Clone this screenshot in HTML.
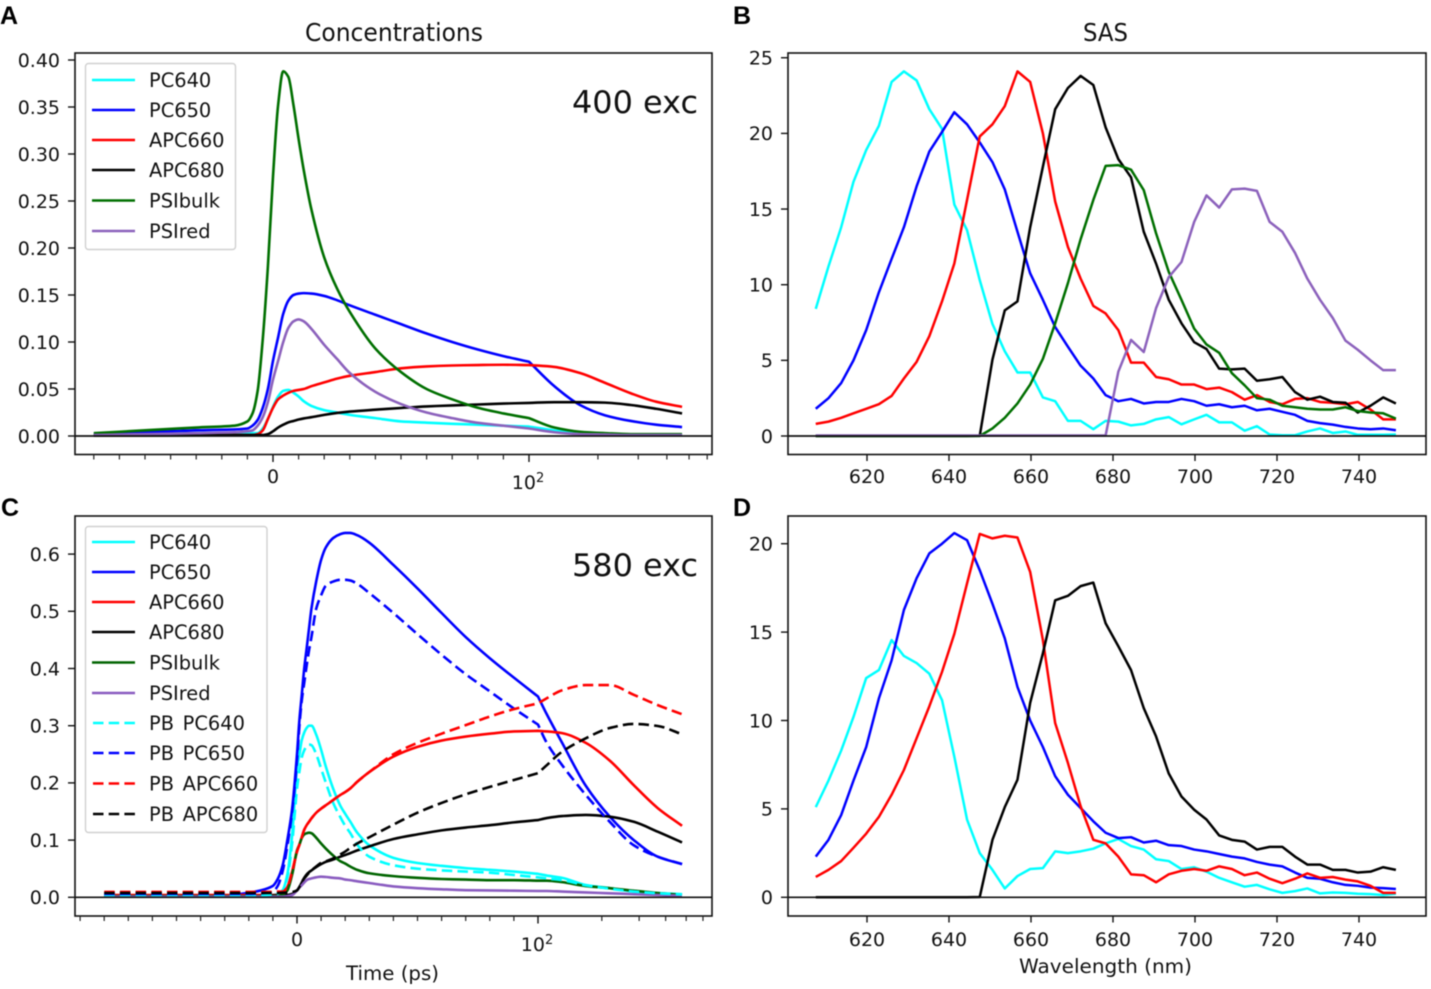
<!DOCTYPE html>
<html lang="en">
<head>
<meta charset="utf-8">
<title>Concentrations and SAS</title>
<style>
  html, body { margin: 0; padding: 0; background: #fff; width: 1431px; height: 989px; overflow: hidden; }
  svg { display: block; filter: blur(0.55px); }
  text { font-family: "DejaVu Sans", "Liberation Sans", sans-serif; fill: #111; }
  .tick { font-size: 19px; }
  .legend { font-size: 19.4px; word-spacing: 2.5px; }
  .panel-label { font-family: "Liberation Sans", sans-serif; font-weight: 700; font-size: 25px; fill: #000; }
</style>
</head>
<body>
<svg id="figure" width="1431" height="989" viewBox="0 0 1431 989" xmlns="http://www.w3.org/2000/svg">
  <rect x="0" y="0" width="1431" height="989" fill="#fff"/>

  <text class="panel-label" x="0" y="24">A</text>
  <text class="panel-label" x="733" y="24">B</text>
  <text class="panel-label" x="1" y="516">C</text>
  <text class="panel-label" x="733" y="516">D</text>

  <text x="305" y="41" font-size="24.5" textLength="178" lengthAdjust="spacingAndGlyphs">Concentrations</text>
  <text x="1083" y="41" font-size="24.5" textLength="45" lengthAdjust="spacingAndGlyphs">SAS</text>

  <g id="panel-a"></g>
  <g id="panel-b"></g>
  <g id="panel-c"></g>
  <g id="panel-d"></g>

  <g>
    <text class="tick" x="273" y="483" text-anchor="middle">0</text>
    <text class="tick" x="528" y="489" text-anchor="middle">10<tspan font-size="13" dy="-7">2</tspan></text>
  </g>
  <g>
    <text class="tick" x="297" y="946" text-anchor="middle">0</text>
    <text class="tick" x="537" y="951" text-anchor="middle">10<tspan font-size="13" dy="-7">2</tspan></text>
  </g>

  <text x="346" y="980" font-size="19.6" textLength="93" lengthAdjust="spacingAndGlyphs">Time (ps)</text>
  <text x="1019" y="973" font-size="19.6" textLength="173" lengthAdjust="spacingAndGlyphs">Wavelength (nm)</text>

  <text x="572" y="113" font-size="31.5" textLength="126" lengthAdjust="spacingAndGlyphs">400 exc</text>
  <text x="572" y="576" font-size="31.5" textLength="126" lengthAdjust="spacingAndGlyphs">580 exc</text>

  <g>
    <rect x="85.5" y="63.5" width="150" height="186" rx="3" fill="#fff" fill-opacity="0.85" stroke="#d0d0d0" stroke-width="1.4"/>
    <g><line x1="92" x2="135" y1="80" y2="80" stroke="#00ffff" stroke-width="2.6"/><text class="legend" x="149" y="87">PC640</text></g>
    <g><line x1="92" x2="135" y1="110" y2="110" stroke="#0000ff" stroke-width="2.6"/><text class="legend" x="149" y="117">PC650</text></g>
    <g><line x1="92" x2="135" y1="140" y2="140" stroke="#ff0000" stroke-width="2.6"/><text class="legend" x="149" y="147">APC660</text></g>
    <g><line x1="92" x2="135" y1="170" y2="170" stroke="#000" stroke-width="2.6"/><text class="legend" x="149" y="177">APC680</text></g>
    <g><line x1="92" x2="135" y1="200.5" y2="200.5" stroke="#006f00" stroke-width="2.6"/><text class="legend" x="149" y="207.5">PSIbulk</text></g>
    <g><line x1="92" x2="135" y1="231" y2="231" stroke="#8c62bc" stroke-width="2.6"/><text class="legend" x="149" y="238">PSIred</text></g>
  </g>

  <g>
    <rect x="85.5" y="526.5" width="181.5" height="306" rx="3" fill="#fff" fill-opacity="0.85" stroke="#d0d0d0" stroke-width="1.4"/>
    <g><line x1="92" x2="135" y1="542" y2="542" stroke="#00ffff" stroke-width="2.6"/><text class="legend" x="149" y="549">PC640</text></g>
    <g><line x1="92" x2="135" y1="572" y2="572" stroke="#0000ff" stroke-width="2.6"/><text class="legend" x="149" y="579">PC650</text></g>
    <g><line x1="92" x2="135" y1="602" y2="602" stroke="#ff0000" stroke-width="2.6"/><text class="legend" x="149" y="609">APC660</text></g>
    <g><line x1="92" x2="135" y1="632" y2="632" stroke="#000" stroke-width="2.6"/><text class="legend" x="149" y="639">APC680</text></g>
    <g><line x1="92" x2="135" y1="662.5" y2="662.5" stroke="#006400" stroke-width="2.6"/><text class="legend" x="149" y="669.5">PSIbulk</text></g>
    <g><line x1="92" x2="135" y1="693" y2="693" stroke="#8a5cc0" stroke-width="2.6"/><text class="legend" x="149" y="700">PSIred</text></g>
    <g><line x1="93" x2="135" y1="723" y2="723" stroke="#00ffff" stroke-width="2.6" stroke-dasharray="10.5 5.2"/><text class="legend" x="149" y="730">PB PC640</text></g>
    <g><line x1="93" x2="135" y1="753" y2="753" stroke="#0000ff" stroke-width="2.6" stroke-dasharray="10.5 5.2"/><text class="legend" x="149" y="760">PB PC650</text></g>
    <g><line x1="93" x2="135" y1="783.5" y2="783.5" stroke="#ff0000" stroke-width="2.6" stroke-dasharray="10.5 5.2"/><text class="legend" x="149" y="790.5">PB APC660</text></g>
    <g><line x1="93" x2="135" y1="814" y2="814" stroke="#000" stroke-width="2.6" stroke-dasharray="10.5 5.2"/><text class="legend" x="149" y="821">PB APC680</text></g>
  </g>
</svg>

<script>
/* ---------- Panel A: concentrations, 400 nm excitation ---------- */
var timeA = [-70,-50,-30,-15,-10,-8,-6,-4,-2,0,2,4,6,8,10,12,15,20,25,30,40,50,60,70,80,90,100,129,167,215,278,359,466];
var concAPC640 = [.001,.002,.003,.003,.003,.003,.003,.008,.018,.031,.042,.048,.049,.046,.042,.037,.032,.0275,.025,.0225,.019,.0155,.0142,.013,.012,.011,.01,.006,.003,.002,.0015,.001,.001];
var concAPC650 = [.002,.004,.006,.007,.008,.011,.017,.03,.05,.08,.105,.13,.144,.15,.1515,.152,.1515,.149,.1445,.139,.129,.119,.109,.10,.092,.085,.079,.053,.033,.022,.016,.012,.0095];
var concAAPC660 = [.0005,.0007,.001,.001,.001,.001,.002,.006,.018,.03,.039,.043,.046,.048,.049,.05,.053,.057,.061,.064,.068,.072,.074,.075,.0755,.0758,.0755,.0735,.067,.0565,.0455,.0365,.031];
var concAAPC680 = [.0003,.0005,.0008,.001,.001,.001,.001,.001,.002,.005,.009,.012,.0145,.016,.0175,.0187,.02,.0225,.0245,.026,.028,.0298,.0315,.0325,.0335,.0345,.0352,.036,.036,.0355,.033,.029,.024];
var concAPSIbulk = [.003,.006,.009,.011,.0155,.024,.048,.103,.18,.276,.352,.388,.382,.352,.316,.283,.241,.19,.157,.132,.093,.068,.05,.039,.03,.024,.019,.009,.0045,.003,.002,.002,.002];
var concAPSIred = [.001,.002,.003,.004,.005,.006,.011,.02,.036,.06,.08,.10,.115,.122,.124,.122,.114,.097,.082,.067,.047,.034,.025,.019,.014,.011,.008,.004,.002,.0015,.001,.001,.001];
var yTicksA = [0,.05,.10,.15,.20,.25,.30,.35,.40];
var yLabelsA = ['0.00','0.05','0.10','0.15','0.20','0.25','0.30','0.35','0.40'];
var xMinorTicksA = [-70,-60,-50,-40,-30,-20,-10,10,20,30,40,50,60,70,80,90,200,300,400,500,600];
var xMajorTicksA = [0,100];

/* ---------- Panel C: concentrations, 580 nm excitation ---------- */
var timeC = [-80,-30,-20,-15,-10,-8,-6,-4,-2,0,1,2,3,4,5,6,8,10,12,15,18,20,22,25,30,40,50,60,70,80,90,100,110,130,168,218,283,367,478];
var concCPC640 = [.003,.003,.003,.003,.004,.006,.012,.04,.11,.225,.25,.275,.288,.296,.30,.30,.284,.258,.228,.19,.16,.146,.133,.113,.091,.069,.06,.055,.051,.048,.045,.041,.038,.034,.0215,.016,.01,.0075,.0055];
var concCPC650 = [.003,.003,.008,.012,.02,.032,.055,.10,.155,.25,.31,.355,.40,.435,.47,.505,.553,.59,.612,.628,.635,.637,.637,.633,.62,.581,.54,.497,.455,.418,.384,.351,.32,.27,.195,.141,.10,.071,.058];
var concCAPC660 = [.004,.004,.004,.004,.004,.004,.008,.018,.045,.08,.092,.105,.118,.126,.132,.138,.148,.155,.161,.17,.179,.184,.19,.202,.219,.246,.263,.274,.281,.286,.29,.291,.29,.287,.27,.239,.196,.156,.125];
var concCAPC680 = [.001,.001,.001,.002,.003,.003,.004,.004,.006,.012,.018,.026,.034,.04,.044,.047,.053,.058,.062,.066,.071,.074,.077,.082,.089,.102,.11,.117,.122,.126,.131,.135,.1385,.142,.144,.141,.132,.1147,.096];
var concCPSIbulk = [.002,.002,.002,.002,.002,.002,.004,.012,.04,.082,.092,.104,.11,.112,.113,.112,.104,.094,.085,.073,.063,.059,.054,.048,.042,.037,.034,.032,.031,.03,.03,.029,.029,.0265,.0197,.016,.0115,.0075,.004];
var concCPSIred = [.001,.001,.001,.001,.001,.001,.001,.002,.004,.012,.017,.021,.026,.03,.032,.033,.035,.036,.0355,.034,.033,.031,.03,.028,.025,.019,.016,.014,.0125,.012,.0115,.011,.011,.01,.0085,.007,.0055,.004,.003];
var concCPBPC640 = [.004,.004,.004,.004,.005,.006,.012,.035,.095,.19,.22,.245,.257,.264,.267,.266,.25,.225,.2,.165,.14,.125,.113,.092,.071,.056,.05,.047,.045,.043,.039,.035,.033,.03,.021,.015,.01,.007,.005];
var concCPBPC650 = [.006,.006,.006,.007,.01,.02,.045,.09,.15,.24,.30,.345,.375,.405,.432,.455,.505,.528,.545,.552,.555,.555,.554,.548,.532,.497,.46,.424,.39,.36,.33,.302,.27,.231,.179,.132,.091,.071,.058];
var concCPBAPC660 = [.0095,.0095,.0095,.0095,.0095,.01,.01,.018,.045,.08,.092,.105,.118,.126,.132,.138,.148,.155,.161,.17,.179,.184,.19,.202,.219,.25,.27,.286,.301,.316,.329,.339,.348,.362,.371,.371,.354,.336,.32];
var concCPBAPC680 = [.0075,.0075,.0075,.0075,.0075,.0075,.008,.008,.009,.012,.018,.027,.033,.038,.043,.047,.054,.06,.063,.068,.075,.08,.086,.094,.105,.127,.148,.165,.18,.193,.205,.217,.231,.2546,.278,.296,.303,.2995,.285];
var yTicksC = [0,.1,.2,.3,.4,.5,.6];
var yLabelsC = ['0.0','0.1','0.2','0.3','0.4','0.5','0.6'];
var xMinorTicksC = [-90,-80,-70,-60,-50,-40,-30,-20,-10,10,20,30,40,50,60,70,80,90,200,300,400,500,600];
var xMajorTicksC = [0,100];

/* ---------- Panels B and D: spectra ---------- */
var wavelengths = [607.5,610.6,613.7,616.7,619.8,622.9,626.0,629.0,632.1,635.2,638.3,641.3,644.4,647.5,650.6,653.6,656.7,659.8,662.9,665.9,669.0,672.1,675.2,678.2,681.3,684.4,687.5,690.5,693.6,696.7,699.8,702.8,705.9,709.0,712.1,715.1,718.2,721.3,724.4,727.4,730.5,733.6,736.7,739.7,742.8,745.9,749.0];
var sasBPC640 = [8.4,11.2,13.8,16.8,18.9,20.5,23.4,24.1,23.5,21.6,20.3,15.3,13.6,10.3,7.4,5.6,4.2,4.2,2.55,2.3,1.0,1.0,.45,1.0,.95,.7,.8,1.1,1.25,.77,1.1,1.4,.9,.9,.35,.65,.1,.05,.05,.3,.5,.2,.3,.08,.08,.08,.1];
var sasBPC650 = [1.8,2.5,3.5,5.0,7.0,9.5,11.7,13.8,16.5,18.8,20.1,21.4,20.6,19.4,18.1,16.3,13.5,10.75,9.0,7.2,5.9,4.65,3.8,2.7,2.3,2.45,2.15,2.25,2.25,2.45,2.3,2.0,2.1,1.9,2.0,1.7,1.8,1.6,1.4,1.0,.85,.75,.6,.5,.45,.5,.38];
var sasBAPC660 = [.8,.95,1.2,1.5,1.8,2.1,2.65,3.8,4.9,6.6,8.9,11.4,15.6,19.8,20.6,21.8,24.1,23.4,20.0,15.5,12.5,10.4,8.6,8.1,7.0,4.85,4.85,3.9,3.75,3.4,3.4,3.1,3.2,2.9,2.4,2.7,2.25,2.1,2.45,2.5,2.25,2.2,2.1,2.25,1.75,1.1,1.1];
var sasBAPC680 = [0,0,0,0,0,0,0,0,0,0,0,0,0,.02,5.05,8.3,8.9,13.8,17.8,21.6,23.0,23.8,23.2,20.4,18.3,17.1,13.5,11.4,9.0,7.45,6.2,5.75,4.45,4.4,4.45,3.65,3.75,3.9,2.9,2.4,2.6,2.25,2.2,1.55,2.0,2.55,2.15];
var sasBPSIbulk = [0,0,0,0,0,0,0,0,0,0,0,0,0,0,.5,1.2,2.15,3.4,5.1,7.45,10.1,13,15.6,17.85,17.9,17.6,16.25,13.4,10.85,9.0,7.1,6.05,5.5,4.15,3.35,2.5,2.4,2.0,1.9,1.8,1.75,1.75,1.9,1.65,1.55,1.5,1.15];
var sasBPSIred = [.03,.03,.03,.03,.03,.03,.03,.03,.03,.03,.03,.03,.03,.03,.03,.03,.03,.03,.03,.03,.03,.03,.03,.03,4.25,6.35,5.55,8.45,10.5,11.5,14.15,15.9,15.1,16.3,16.35,16.2,14.15,13.5,12.1,10.4,9.0,7.8,6.3,5.7,5.0,4.35,4.35];
var sasDPC640 = [5.1,6.6,8.3,10.2,12.4,12.85,14.55,13.65,13.25,12.65,11.15,7.95,4.4,2.5,1.55,.5,1.2,1.6,1.65,2.6,2.5,2.6,2.75,3.05,3.3,2.9,2.7,2.15,2.05,1.6,1.7,1.45,1.1,.85,.6,.7,.45,.25,.35,.5,.22,.27,.25,.2,.18,.13,.2];
var sasDPC650 = [2.3,3.25,4.65,6.6,8.5,11.25,13.4,16.25,18.05,19.45,20.0,20.6,20.2,18.5,16.6,14.65,11.9,10.0,8.5,6.85,5.8,5.05,4.3,3.65,3.35,3.4,3.1,3.2,2.95,2.9,2.7,2.6,2.45,2.3,2.2,2.0,1.85,1.75,1.4,1.1,1.05,.85,.7,.65,.55,.52,.47];
var sasDAPC660 = [1.15,1.55,2.05,2.8,3.6,4.55,5.8,7.2,9.0,10.8,12.75,14.9,17.75,20.55,20.3,20.45,20.35,18.4,14.55,9.85,7.6,5.15,3.25,3.05,2.3,1.3,1.25,.85,1.3,1.5,1.6,1.5,1.75,1.6,1.25,1.4,1.05,.8,1.05,1.35,1.1,1.15,1.0,.9,.65,.25,.25];
var sasDAPC680 = [0,0,0,0,0,0,0,0,0,0,0,0,0,.02,3.25,5.1,6.65,11,13.8,16.8,17.05,17.6,17.8,15.5,14.2,12.85,10.7,9.1,7.0,5.7,4.95,4.4,3.5,3.25,3.15,2.7,2.85,2.85,2.3,1.85,1.85,1.55,1.55,1.4,1.45,1.7,1.55];
var xTicksSpectra = [620,640,660,680,700,720,740];
var xLabelsSpectra = ['620','640','660','680','700','720','740'];
var yTicksB = [0,5,10,15,20,25];
var yLabelsB = ['0','5','10','15','20','25'];
var yTicksD = [0,5,10,15,20];
var yLabelsD = ['0','5','10','15','20'];

/* ---------- Axis functions ---------- */
function timeAxisA(t) { return t <= 100 ? 273 + 2.56 * t : 529 + 229 * Math.log10(t / 100); }
function timeAxisC(t) { return t <= 100 ? 297 + 2.41 * t : 538 + 212 * Math.log10(t / 100); }
function waveAxis(w) { return 867 + (w - 620) * 4.1; }
function yAxisA(v) { return 436 - v * 940; }
function yAxisB(v) { return 436 - v * 15.13; }
function yAxisC(v) { return 897.3 - v * 572; }
function yAxisD(v) { return 897.3 - v * 17.68; }

var SVG_NS = 'http://www.w3.org/2000/svg';

function makeLine(parent, name, x1, y1, x2, y2, width, color) {
  var el = document.createElementNS(SVG_NS, 'line');
  
  
  el.setAttribute('x1', x1);
  el.setAttribute('y1', y1);
  el.setAttribute('x2', x2);
  el.setAttribute('y2', y2);
  el.setAttribute('stroke', color);
  el.setAttribute('stroke-width', width);
  parent.appendChild(el);
}

function makeTickLabel(parent, name, x, y, anchor, label) {
  var el = document.createElementNS(SVG_NS, 'text');
  
  
  el.setAttribute('class', 'tick');
  el.setAttribute('x', x);
  el.setAttribute('y', y);
  el.setAttribute('text-anchor', anchor);
  el.textContent = label;
  parent.appendChild(el);
}

/* Monotone cubic segment through screen points; keeps curves smooth without overshoot. */
function monotoneSegment(px, py, start, end) {
  var n = end - start + 1;
  var d = [];
  var m = [];
  var i;
  for (i = 0; i < n - 1; i++) {
    d.push((py[start + i + 1] - py[start + i]) / (px[start + i + 1] - px[start + i]));
  }
  m.push(d[0]);
  for (i = 1; i < n - 1; i++) {
    m.push(d[i - 1] * d[i] <= 0 ? 0 : 2 * d[i - 1] * d[i] / (d[i - 1] + d[i]));
  }
  m.push(d[n - 2]);
  var out = '';
  for (i = 0; i < n - 1; i++) {
    var h = (px[start + i + 1] - px[start + i]) / 3;
    out += ' C' + (px[start + i] + h).toFixed(2) + ',' + (py[start + i] + m[i] * h).toFixed(2) +
           ' ' + (px[start + i + 1] - h).toFixed(2) + ',' + (py[start + i + 1] - m[i + 1] * h).toFixed(2) +
           ' ' + px[start + i + 1].toFixed(2) + ',' + py[start + i + 1].toFixed(2);
  }
  return out;
}

function drawSmoothSeries(parent, name, xs, ys, xFn, yFn, color, dashed) {
  var px = [];
  var py = [];
  var knee = xs.indexOf(100);
  for (var i = 0; i < xs.length; i++) {
    px.push(xFn(xs[i]));
    py.push(yFn(ys[i]));
  }
  var path = 'M' + px[0].toFixed(2) + ',' + py[0].toFixed(2);
  path += monotoneSegment(px, py, 0, knee);
  path += monotoneSegment(px, py, knee, xs.length - 1);
  var el = document.createElementNS(SVG_NS, 'path');
  
  
  el.setAttribute('d', path);
  el.setAttribute('fill', 'none');
  el.setAttribute('stroke', color);
  el.setAttribute('stroke-width', '2.6');
  el.setAttribute('stroke-linejoin', 'round');
  if (dashed) {
    el.setAttribute('stroke-dasharray', '10.5 5.2');
  }
  parent.appendChild(el);
}

function drawSeries(parent, name, xs, ys, xFn, yFn, color) {
  var pts = [];
  for (var i = 0; i < xs.length; i++) {
    pts.push(xFn(xs[i]).toFixed(2) + ',' + yFn(ys[i]).toFixed(2));
  }
  var el = document.createElementNS(SVG_NS, 'polyline');
  
  
  el.setAttribute('points', pts.join(' '));
  el.setAttribute('fill', 'none');
  el.setAttribute('stroke', color);
  el.setAttribute('stroke-width', '2.5');
  el.setAttribute('stroke-linejoin', 'round');
  parent.appendChild(el);
}

function drawFrame(parent, key, left, top, right, bottom, yFn, yTicks, yLabels) {
  var frame = document.createElementNS(SVG_NS, 'rect');
  
  
  frame.setAttribute('x', left);
  frame.setAttribute('y', top);
  frame.setAttribute('width', right - left);
  frame.setAttribute('height', bottom - top);
  frame.setAttribute('fill', '#fff');
  frame.setAttribute('stroke', '#111');
  frame.setAttribute('stroke-width', '1.6');
  parent.appendChild(frame);
  for (var i = 0; i < yTicks.length; i++) {
    var y = yFn(yTicks[i]);
    makeLine(parent, 'y-tick-' + key + '-' + yLabels[i], left - 7, y, left, y, 1.4, '#111');
    makeTickLabel(parent, 'y-tick-label-' + key + '-' + yLabels[i], left - 15, y + 6.8, 'end', yLabels[i]);
  }
}

function drawZeroLine(parent, key, left, right, y) {
  makeLine(parent, 'zero-line-' + key, left, y, right, y, 1.7, '#111');
}

/* ---------- Panel A ---------- */
var panelA = document.getElementById('panel-a');
drawFrame(panelA, 'a', 75, 53, 712, 454.5, yAxisA, yTicksA, yLabelsA);
for (var a1 = 0; a1 < xMinorTicksA.length; a1++) {
  makeLine(panelA, 'x-minor-tick-a', timeAxisA(xMinorTicksA[a1]), 454.5, timeAxisA(xMinorTicksA[a1]), 459.5, 1.2, '#222');
}
for (var a2 = 0; a2 < xMajorTicksA.length; a2++) {
  makeLine(panelA, 'x-major-tick-a', timeAxisA(xMajorTicksA[a2]), 454.5, timeAxisA(xMajorTicksA[a2]), 462, 1.4, '#111');
}
drawSmoothSeries(panelA, 'line-a-pc640', timeA, concAPC640, timeAxisA, yAxisA, '#00ffff', false);
drawSmoothSeries(panelA, 'line-a-pc650', timeA, concAPC650, timeAxisA, yAxisA, '#0000ff', false);
drawSmoothSeries(panelA, 'line-a-apc660', timeA, concAAPC660, timeAxisA, yAxisA, '#ff0000', false);
drawSmoothSeries(panelA, 'line-a-apc680', timeA, concAAPC680, timeAxisA, yAxisA, '#000000', false);
drawSmoothSeries(panelA, 'line-a-psibulk', timeA, concAPSIbulk, timeAxisA, yAxisA, '#006f00', false);
drawSmoothSeries(panelA, 'line-a-psired', timeA, concAPSIred, timeAxisA, yAxisA, '#8c62bc', false);
drawZeroLine(panelA, 'a', 75, 712, yAxisA(0));

/* ---------- Panel B ---------- */
var panelB = document.getElementById('panel-b');
drawFrame(panelB, 'b', 788, 53, 1426, 454.5, yAxisB, yTicksB, yLabelsB);
for (var b1 = 0; b1 < xTicksSpectra.length; b1++) {
  makeLine(panelB, 'x-tick-b-' + xLabelsSpectra[b1], waveAxis(xTicksSpectra[b1]), 454.5, waveAxis(xTicksSpectra[b1]), 461, 1.4, '#111');
  makeTickLabel(panelB, 'x-tick-label-b-' + xLabelsSpectra[b1], waveAxis(xTicksSpectra[b1]), 483, 'middle', xLabelsSpectra[b1]);
}
drawSeries(panelB, 'line-b-pc640', wavelengths, sasBPC640, waveAxis, yAxisB, '#00ffff');
drawSeries(panelB, 'line-b-pc650', wavelengths, sasBPC650, waveAxis, yAxisB, '#0000ff');
drawSeries(panelB, 'line-b-apc660', wavelengths, sasBAPC660, waveAxis, yAxisB, '#ff0000');
drawSeries(panelB, 'line-b-apc680', wavelengths, sasBAPC680, waveAxis, yAxisB, '#000000');
drawSeries(panelB, 'line-b-psibulk', wavelengths, sasBPSIbulk, waveAxis, yAxisB, '#006f00');
drawSeries(panelB, 'line-b-psired', wavelengths, sasBPSIred, waveAxis, yAxisB, '#8c62bc');
drawZeroLine(panelB, 'b', 788, 1426, yAxisB(0));

/* ---------- Panel C ---------- */
var panelC = document.getElementById('panel-c');
drawFrame(panelC, 'c', 75, 516, 712, 916, yAxisC, yTicksC, yLabelsC);
for (var c1 = 0; c1 < xMinorTicksC.length; c1++) {
  makeLine(panelC, 'x-minor-tick-c', timeAxisC(xMinorTicksC[c1]), 916, timeAxisC(xMinorTicksC[c1]), 921, 1.2, '#222');
}
for (var c2 = 0; c2 < xMajorTicksC.length; c2++) {
  makeLine(panelC, 'x-major-tick-c', timeAxisC(xMajorTicksC[c2]), 916, timeAxisC(xMajorTicksC[c2]), 923.5, 1.4, '#111');
}
drawSmoothSeries(panelC, 'line-c-pc640', timeC, concCPC640, timeAxisC, yAxisC, '#00ffff', false);
drawSmoothSeries(panelC, 'line-c-pc650', timeC, concCPC650, timeAxisC, yAxisC, '#0000ff', false);
drawSmoothSeries(panelC, 'line-c-apc660', timeC, concCAPC660, timeAxisC, yAxisC, '#ff0000', false);
drawSmoothSeries(panelC, 'line-c-apc680', timeC, concCAPC680, timeAxisC, yAxisC, '#000000', false);
drawSmoothSeries(panelC, 'line-c-psibulk', timeC, concCPSIbulk, timeAxisC, yAxisC, '#006400', false);
drawSmoothSeries(panelC, 'line-c-psired', timeC, concCPSIred, timeAxisC, yAxisC, '#8a5cc0', false);
drawSmoothSeries(panelC, 'line-c-pb-pc640', timeC, concCPBPC640, timeAxisC, yAxisC, '#00ffff', true);
drawSmoothSeries(panelC, 'line-c-pb-pc650', timeC, concCPBPC650, timeAxisC, yAxisC, '#0000ff', true);
drawSmoothSeries(panelC, 'line-c-pb-apc660', timeC, concCPBAPC660, timeAxisC, yAxisC, '#ff0000', true);
drawSmoothSeries(panelC, 'line-c-pb-apc680', timeC, concCPBAPC680, timeAxisC, yAxisC, '#000000', true);
drawZeroLine(panelC, 'c', 75, 712, yAxisC(0));

/* ---------- Panel D ---------- */
var panelD = document.getElementById('panel-d');
drawFrame(panelD, 'd', 788, 516, 1426, 916, yAxisD, yTicksD, yLabelsD);
for (var d1 = 0; d1 < xTicksSpectra.length; d1++) {
  makeLine(panelD, 'x-tick-d-' + xLabelsSpectra[d1], waveAxis(xTicksSpectra[d1]), 916, waveAxis(xTicksSpectra[d1]), 922.5, 1.4, '#111');
  makeTickLabel(panelD, 'x-tick-label-d-' + xLabelsSpectra[d1], waveAxis(xTicksSpectra[d1]), 946, 'middle', xLabelsSpectra[d1]);
}
drawSeries(panelD, 'line-d-pc640', wavelengths, sasDPC640, waveAxis, yAxisD, '#00ffff');
drawSeries(panelD, 'line-d-pc650', wavelengths, sasDPC650, waveAxis, yAxisD, '#0000ff');
drawSeries(panelD, 'line-d-apc660', wavelengths, sasDAPC660, waveAxis, yAxisD, '#ff0000');
drawSeries(panelD, 'line-d-apc680', wavelengths, sasDAPC680, waveAxis, yAxisD, '#000000');
drawZeroLine(panelD, 'd', 788, 1426, yAxisD(0));
</script>
</body>
</html>
